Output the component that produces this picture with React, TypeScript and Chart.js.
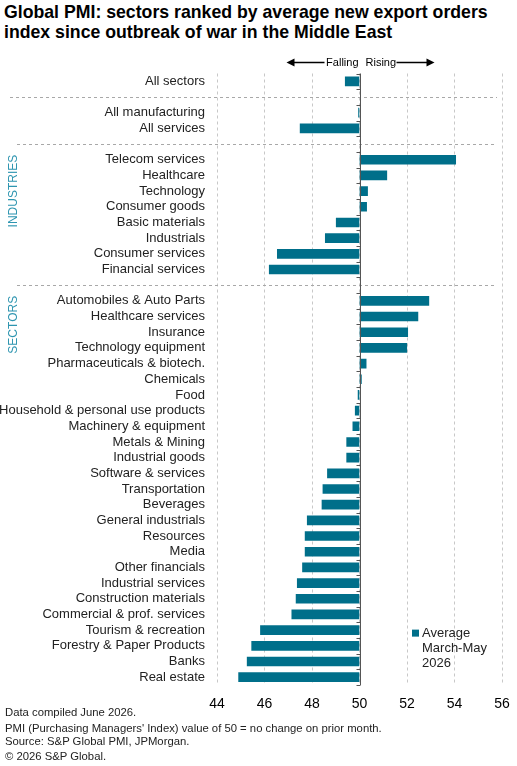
import React, { useEffect, useRef } from "react";
import { Chart, registerables } from "chart.js";

Chart.register(...registerables);

const FONT = '"Liberation Sans", Arial, Helvetica, sans-serif';

const titleLines = [
  "Global PMI: sectors ranked by average new export orders",
  "index since outbreak of war in the Middle East",
];

const categories = [
  "All sectors",
  "",
  "All manufacturing",
  "All services",
  "",
  "Telecom services",
  "Healthcare",
  "Technology",
  "Consumer goods",
  "Basic materials",
  "Industrials",
  "Consumer services",
  "Financial services",
  "",
  "Automobiles & Auto Parts",
  "Healthcare services",
  "Insurance",
  "Technology equipment",
  "Pharmaceuticals & biotech.",
  "Chemicals",
  "Food",
  "Household & personal use products",
  "Machinery & equipment",
  "Metals & Mining",
  "Industrial goods",
  "Software & services",
  "Transportation",
  "Beverages",
  "General industrials",
  "Resources",
  "Media",
  "Other financials",
  "Industrial services",
  "Construction materials",
  "Commercial & prof. services",
  "Tourism & recreation",
  "Forestry & Paper Products",
  "Banks",
  "Real estate",
];

const values: (number | null)[] = [
  49.4,
  null,
  49.96,
  47.5,
  null,
  54.05,
  51.15,
  50.34,
  50.3,
  49.02,
  48.56,
  46.54,
  46.2,
  null,
  52.92,
  52.46,
  52.03,
  51.99,
  50.28,
  50.08,
  49.94,
  49.82,
  49.72,
  49.46,
  49.46,
  48.65,
  48.46,
  48.42,
  47.8,
  47.71,
  47.71,
  47.6,
  47.38,
  47.33,
  47.15,
  45.83,
  45.46,
  45.27,
  44.91,
];

const groupLabels = [
  { text: "INDUSTRIES", startIndex: 5 },
  { text: "SECTORS", startIndex: 14 },
];

const xMin = 44;
const xMax = 56;
const xStep = 2;
const baseValue = 50;

const seriesLabelLines = ["Average", "March-May", "2026"];
const directionLabels = ["Falling", "Rising"];

const footerLines = [
  "Data compiled June 2026.",
  "PMI (Purchasing Managers' Index) value of 50 = no change on prior month.",
  "Source: S&P Global PMI, JPMorgan.",
  "\u00a9 2026 S&P Global.",
];

const BAR_COLOR = "#006f8a";
const GROUP_COLOR = "#2e95b0";

const decorPlugin = {
  id: "decor",
  beforeDatasetsDraw(chart: any) {
    const { ctx, chartArea, scales } = chart;
    const y = scales.y;
    ctx.save();
    ctx.strokeStyle = "#a8a8a8";
    ctx.lineWidth = 1;
    ctx.setLineDash([3, 3]);
    let first = true;
    categories.forEach((c, i) => {
      if (c === "") {
        const py = Math.round(y.getPixelForValue(i)) + 0.5;
        ctx.beginPath();
        ctx.moveTo(first ? 10 : 17, py);
        ctx.lineTo(chartArea.right - 5, py);
        ctx.stroke();
        first = false;
      }
    });
    ctx.restore();
  },
  afterDatasetsDraw(chart: any) {
    const { ctx, chartArea, scales } = chart;
    const y = scales.y;
    const x = scales.x;
    const x50 = Math.round(x.getPixelForValue(baseValue)) + 0.5;
    ctx.save();
    ctx.strokeStyle = "#555";
    ctx.lineWidth = 1;
    ctx.beginPath();
    ctx.moveTo(x50, chartArea.top);
    ctx.lineTo(x50, chartArea.bottom);
    ctx.stroke();
    const n = categories.length;
    const rowH = (chartArea.bottom - chartArea.top) / n;
    for (let i = 0; i <= n; i++) {
      const py = Math.round(chartArea.top + i * rowH) + 0.5;
      ctx.beginPath();
      ctx.moveTo(x50 - 4, py);
      ctx.lineTo(x50, py);
      ctx.stroke();
    }
    ctx.fillStyle = GROUP_COLOR;
    ctx.font = `12px ${FONT}`;
    ctx.textBaseline = "middle";
    ctx.textAlign = "right";
    groupLabels.forEach((g) => {
      const top = y.getPixelForValue(g.startIndex) - 5;
      ctx.save();
      ctx.translate(14, top);
      ctx.rotate(-Math.PI / 2);
      ctx.fillText(g.text, 0, 0);
      ctx.restore();
    });
    const ay = chartArea.top - 11;
    ctx.fillStyle = "#000";
    ctx.strokeStyle = "#000";
    ctx.lineWidth = 1.5;
    ctx.font = `11px ${FONT}`;
    ctx.textAlign = "right";
    ctx.fillText(directionLabels[0], x50 - 2, ay);
    ctx.textAlign = "left";
    ctx.fillText(directionLabels[1], x50 + 5, ay);
    const drawArrow = (fromX: number, toX: number) => {
      const dir = Math.sign(toX - fromX);
      ctx.beginPath();
      ctx.moveTo(fromX, ay);
      ctx.lineTo(toX - dir * 6, ay);
      ctx.stroke();
      ctx.beginPath();
      ctx.moveTo(toX, ay);
      ctx.lineTo(toX - dir * 8, ay - 4);
      ctx.lineTo(toX - dir * 8, ay + 4);
      ctx.closePath();
      ctx.fill();
    };
    drawArrow(x50 - 36, x50 - 74);
    drawArrow(x50 + 36, x50 + 74);
    const lx = chartArea.right - 90;
    const ly = y.getPixelForValue(35) + 3;
    ctx.fillStyle = BAR_COLOR;
    ctx.fillRect(lx, ly - 3.5, 7, 7);
    ctx.fillStyle = "#222";
    ctx.font = `13px ${FONT}`;
    ctx.textAlign = "left";
    ctx.textBaseline = "middle";
    seriesLabelLines.forEach((t, i) => {
      ctx.fillText(t, lx + 10, ly + i * 15);
    });
    ctx.restore();
  },
};

export default function App() {
  const canvasRef = useRef<HTMLCanvasElement | null>(null);

  useEffect(() => {
    if (!canvasRef.current) return;
    const chart = new Chart(canvasRef.current, {
      type: "bar",
      data: {
        labels: categories,
        datasets: [
          {
            label: seriesLabelLines.join(" "),
            data: values as any,
            base: baseValue,
            backgroundColor: BAR_COLOR,
            borderWidth: 0,
            barThickness: 9,
          } as any,
        ],
      },
      options: {
        indexAxis: "y",
        responsive: false,
        animation: false,
        devicePixelRatio: 1,
        layout: { padding: { top: 73.5, right: 15, bottom: 51, left: 0 } },
        plugins: {
          legend: { display: false },
          tooltip: { enabled: false },
          title: { display: false },
        },
        scales: {
          x: {
            type: "linear",
            min: xMin,
            max: xMax,
            ticks: {
              stepSize: xStep,
              color: "#000",
              font: { family: FONT, size: 14 },
              padding: 11,
            },
            grid: {
              color: "#c8c8c8",
              drawTicks: false,
              lineWidth: 1,
            },
            border: { display: false, dash: [3, 3] },
            afterFit: (s: any) => {
              s.height = 30;
              s.paddingLeft = 0;
              s.paddingRight = 0;
            },
          },
          y: {
            type: "category",
            ticks: {
              color: "#222",
              font: { family: FONT, size: 13 },
              padding: 12,
              autoSkip: false,
            },
            grid: { display: false, drawTicks: false },
            border: { display: false },
            afterFit: (s: any) => {
              s.width = 217;
              s.paddingTop = 0;
              s.paddingBottom = 0;
            },
          },
        },
      } as any,
      plugins: [decorPlugin],
    });
    return () => chart.destroy();
  }, []);

  const textStyle: React.CSSProperties = {
    position: "absolute",
    left: 4,
    fontFamily: FONT,
    whiteSpace: "nowrap",
    margin: 0,
  };

  return (
    <div
      style={{
        position: "absolute",
        left: 0,
        top: 0,
        width: 517,
        height: 766,
        background: "#fff",
        overflow: "hidden",
      }}
    >
      {titleLines.map((t, i) => (
        <div
          key={t}
          style={{
            ...textStyle,
            top: 2 + i * 20,
            fontSize: 17.7,
            fontWeight: "bold",
            lineHeight: "20px",
            color: "#000",
          }}
        >
          {t}
        </div>
      ))}
      <canvas
        ref={canvasRef}
        width={517}
        height={766}
        style={{ position: "absolute", left: 0, top: 0, width: 517, height: 766 }}
      />
      {footerLines.map((t, i) => (
        <div
          key={t}
          style={{
            ...textStyle,
            left: 5,
            top: [705, 720.5, 734, 749][i],
            fontSize: 11.3,
            lineHeight: "15px",
            color: "#222",
          }}
        >
          {t}
        </div>
      ))}
    </div>
  );
}
